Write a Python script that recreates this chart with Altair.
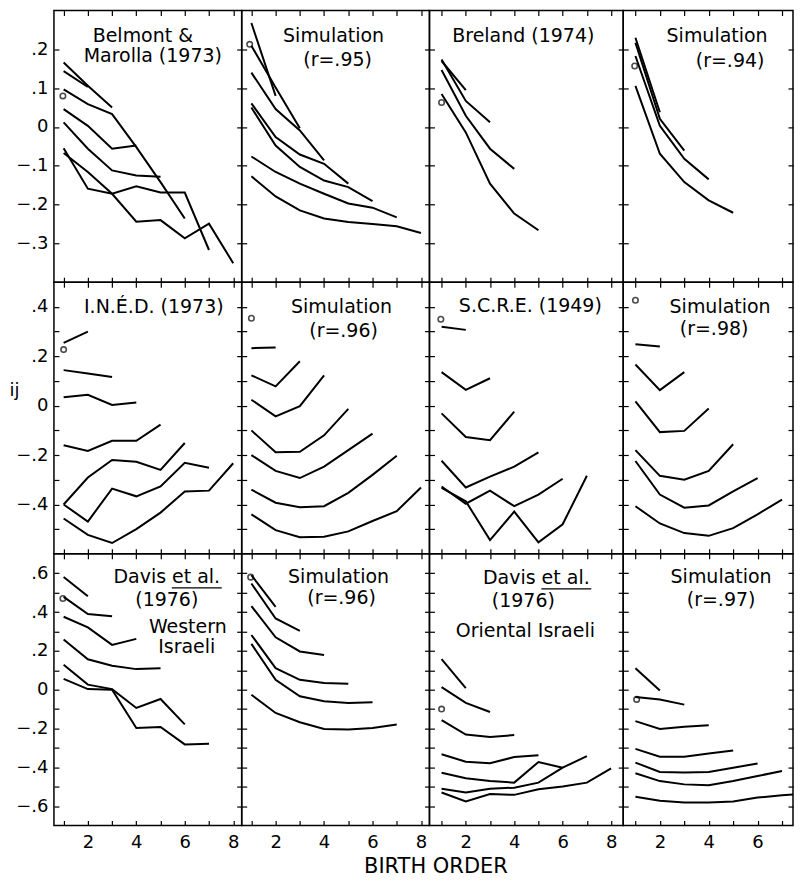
import altair as alt
import pandas as pd

FONT = "DejaVu Sans"
BIRTH_ORDER = [1, 2, 3, 4, 5, 6, 7, 8]

# ---- data: one list per family size, values for birth orders 1..n ----
belmont_marolla = [
    [0.144, 0.103],
    [0.166, 0.106, 0.050],
    [0.046, 0.003, -0.056, -0.048],
    [0.012, -0.056, -0.112, -0.125, -0.128],
    [0.097, 0.059, 0.033, -0.052, -0.142, -0.236],
    [-0.055, -0.159, -0.172, -0.153, -0.169, -0.169, -0.317],
    [-0.067, -0.116, -0.172, -0.244, -0.240, -0.287, -0.249, -0.351],
]
sim_95 = [
    [0.268, 0.080],
    [0.209, 0.102, -0.003],
    [0.140, 0.046, -0.009, -0.086],
    [0.061, -0.026, -0.071, -0.095, -0.146],
    [0.050, -0.048, -0.103, -0.138, -0.155, -0.191],
    [-0.076, -0.116, -0.146, -0.172, -0.197, -0.208, -0.233],
    [-0.127, -0.179, -0.215, -0.236, -0.245, -0.250, -0.256, -0.273],
]
breland = [
    [0.170, 0.095],
    [0.174, 0.067, 0.012],
    [0.147, 0.029, -0.056, -0.108],
    [0.085, -0.014, -0.146, -0.223, -0.266],
]
sim_94 = [
    [0.230, 0.038],
    [0.217, 0.021, -0.061],
    [0.183, 0.003, -0.082, -0.135],
    [0.106, -0.069, -0.142, -0.189, -0.221],
]
ined = [
    [0.254, 0.300],
    [0.144, 0.130, 0.116],
    [0.034, 0.044, 0.003, 0.013],
    [-0.160, -0.183, -0.142, -0.142, -0.077],
    [-0.400, -0.291, -0.220, -0.227, -0.260, -0.151],
    [-0.400, -0.469, -0.336, -0.367, -0.327, -0.231, -0.251],
    [-0.457, -0.523, -0.556, -0.500, -0.433, -0.347, -0.344, -0.233],
]
sim_96a = [
    [0.233, 0.236],
    [0.123, 0.078, 0.180],
    [0.024, -0.043, -0.002, 0.123],
    [-0.100, -0.189, -0.187, -0.120, -0.013],
    [-0.200, -0.264, -0.293, -0.247, -0.180, -0.113],
    [-0.340, -0.393, -0.411, -0.407, -0.353, -0.280, -0.203],
    [-0.440, -0.504, -0.533, -0.531, -0.509, -0.467, -0.427, -0.331],
]
scre = [
    [0.320, 0.307],
    [0.136, 0.064, 0.111],
    [-0.031, -0.127, -0.140, -0.024],
    [-0.223, -0.331, -0.287, -0.247, -0.189],
    [-0.327, -0.397, -0.344, -0.407, -0.360, -0.296],
    [-0.333, -0.387, -0.544, -0.429, -0.553, -0.480, -0.284],
]
sim_98 = [
    [0.249, 0.240],
    [0.167, 0.063, 0.136],
    [0.017, -0.107, -0.102, -0.011],
    [-0.180, -0.284, -0.300, -0.264, -0.156],
    [-0.224, -0.360, -0.413, -0.404, -0.347, -0.293],
    [-0.407, -0.477, -0.516, -0.527, -0.496, -0.440, -0.380],
]
davis_western = [
    [0.581, 0.482],
    [0.478, 0.390, 0.379],
    [0.376, 0.321, 0.231, 0.262],
    [0.259, 0.157, 0.123, 0.106, 0.111],
    [0.128, 0.026, 0.003, -0.094, -0.048, -0.179],
    [0.056, 0.003, 0.000, -0.197, -0.192, -0.282, -0.279],
]
sim_96b = [
    [0.590, 0.427],
    [0.547, 0.367, 0.303],
    [0.431, 0.270, 0.197, 0.179],
    [0.282, 0.111, 0.051, 0.034, 0.031],
    [0.236, 0.051, -0.034, -0.060, -0.068, -0.065],
    [-0.026, -0.120, -0.168, -0.202, -0.205, -0.197, -0.179],
]
davis_oriental = [
    [0.157, 0.008],
    [0.013, -0.068, -0.115],
    [-0.157, -0.231, -0.244, -0.234],
    [-0.333, -0.371, -0.379, -0.347, -0.338],
    [-0.428, -0.456, -0.470, -0.479, -0.373, -0.402],
    [-0.510, -0.530, -0.510, -0.505, -0.479, -0.402, -0.342],
    [-0.530, -0.576, -0.538, -0.542, -0.513, -0.499, -0.479, -0.405],
]
sim_97 = [
    [0.111, -0.004],
    [-0.038, -0.051, -0.077],
    [-0.162, -0.202, -0.191, -0.183],
    [-0.305, -0.346, -0.346, -0.329, -0.313],
    [-0.376, -0.424, -0.427, -0.424, -0.402, -0.380],
    [-0.431, -0.471, -0.488, -0.492, -0.471, -0.445, -0.419],
    [-0.552, -0.572, -0.581, -0.581, -0.576, -0.556, -0.544, -0.535],
]
# open-circle marker (birth order, value) per panel
circles = [
    [(0.97, 0.080), (0.93, 0.213), (1.0, 0.063), (0.97, 0.157)],
    [(1.0, 0.227), (1.0, 0.354), (0.97, 0.350), (1.0, 0.427)],
    [(0.97, 0.470), (0.97, 0.580), (1.0, -0.100), (1.05, -0.050)],
]
panel_data = [
    [belmont_marolla, sim_95, breland, sim_94],
    [ined, sim_96a, scre, sim_98],
    [davis_western, sim_96b, davis_oriental, sim_97],
]
panel_titles = [
    [["Belmont &", "Marolla (1973)"], ["Simulation", "(r=.95)"], ["Breland (1974)"], ["Simulation", "(r=.94)"]],
    [["I.N.É.D. (1973)"], ["Simulation", "(r=.96)"], ["S.C.R.E. (1949)"], ["Simulation", "(r=.98)"]],
    [["Davis et al.", "(1976)", "Western", "Israeli"], ["Simulation", "(r=.96)"],
     ["Davis et al.", "(1976)", "Oriental Israeli"], ["Simulation", "(r=.97)"]],
]

# ---- layout (pixels, not data) ----
title_pos = [
    [[(89, 25), (99, 46)], [(92, 25), (96, 50)], [(94, 25)], [(94, 25), (107, 51)]],
    [[(100, 25)], [(100, 25), (102, 49)], [(101, 24)], [(97, 25), (91, 47)]],
    [[(113, 23), (113, 46), (134, 73), (133, 93)], [(97, 23), (100, 44)],
     [(107, 24), (94, 47), (96, 77)], [(98, 23), (98, 46)]],
]
# underline under "et al." (panel row, col, x1, x2, y)
underlines = [(2, 0, 118, 168, 34), (2, 2, 112, 162, 35)]
COL_W = [188, 188, 194, 170]
COL_DOM = [[0.6, 8.35], [0.6, 8.35], [0.5, 8.5], [0.5, 7.45]]
ROW_H = 272
ROW_DOM = [[-0.4, 0.3], [-0.6, 0.5], [-0.7, 0.7]]
ROW_TICKS = [
    [round(-0.3 + 0.1 * i, 1) for i in range(6)],
    [round(-0.5 + 0.1 * i, 1) for i in range(10)],
    [round(-0.6 + 0.1 * i, 1) for i in range(13)],
]
FMT = "(datum.value == 0 ? '0' : replace(format(datum.value, '.1f'), '0.', '.'))"
ROW_LABEL = [
    FMT,
    f"(abs(round(datum.value*10)) % 2 != 0 || abs(datum.value) > 0.45) ? '' : {FMT}",
    f"(abs(round(datum.value*10)) % 2 != 0) ? '' : {FMT}",
]


def long_df(lines):
    rows = []
    for i, vals in enumerate(lines):
        for j, v in enumerate(vals):
            rows.append({"x": BIRTH_ORDER[j], "v": v, "fam": i + 2})
    return pd.DataFrame(rows)


def panel(r, c):
    df = long_df(panel_data[r][c])
    xd, yd = COL_DOM[c], ROW_DOM[r]
    xs = alt.Scale(domain=xd, nice=False, zero=False)
    ys = alt.Scale(domain=yd, nice=False, zero=False)
    xt = [v for v in BIRTH_ORDER if xd[0] < v < xd[1]]
    yt = ROW_TICKS[r]

    bx = dict(orient="bottom", values=xt, offset=-5, tickSize=5, domain=False, grid=False,
              labels=(r == 2), labelExpr="datum.value % 2 == 0 ? '' + datum.value : ''",
              labelPadding=8, labelFontSize=18, title=None)
    if r < 2:
        bx.update(minExtent=0, maxExtent=0)
    if (r, c) == (2, 1):
        bx.update(title="BIRTH ORDER", titleX=194, titleY=46, titleAlign="center",
                  titleBaseline="middle", titleFontSize=21, titleFontWeight="normal")
    ly = dict(orient="left", values=yt, offset=-5, tickSize=5, domain=False, grid=False,
              labels=(c == 0), labelExpr=ROW_LABEL[r], labelPadding=6, labelFontSize=18, title=None)
    if c > 0:
        ly.update(minExtent=0, maxExtent=0)
    if (r, c) == (1, 0):
        ly.update(title="ij", titleAngle=0, titleX=-45, titleY=108, titleAlign="center",
                  titleBaseline="middle", titleFontSize=18, titleFontWeight="normal")

    lines = alt.Chart(df).mark_line(color="black", strokeWidth=2.0, clip=True).encode(
        x=alt.X("x:Q", scale=xs, axis=alt.Axis(**bx)),
        y=alt.Y("v:Q", scale=ys, axis=alt.Axis(**ly)),
        detail="fam:N",
    )
    # the open-circle marker also carries the inward ticks on the top and right edges
    cx, cv = circles[r][c]
    circ = alt.Chart(pd.DataFrame({"x": [cx], "v": [cv]})).mark_point(
        shape="circle", filled=False, color="black", size=30, strokeWidth=1.6, clip=True
    ).encode(
        x=alt.X("x:Q", scale=xs, axis=alt.Axis(orient="top", values=xt, offset=-5, tickSize=5,
                                                domain=False, grid=False, labels=False, title=None,
                                                minExtent=0, maxExtent=0)),
        y=alt.Y("v:Q", scale=ys, axis=alt.Axis(orient="right", values=yt, offset=-5, tickSize=5,
                                                domain=False, grid=False, labels=False, title=None,
                                                minExtent=0, maxExtent=0)),
    )

    extra = []
    for t, (px, py) in zip(panel_titles[r][c], title_pos[r][c]):
        extra.append(
            alt.Chart(alt.Data(values=[{"k": 1}])).mark_text(
                text=t, font=FONT, fontSize=19, color="black", align="center", baseline="middle"
            ).encode(x=alt.value(px), y=alt.value(py))
        )
    for (ur, uc, x1, x2, uy) in underlines:
        if (ur, uc) == (r, c):
            extra.append(
                alt.Chart(alt.Data(values=[{"k": 1}])).mark_rule(color="black", strokeWidth=1.3).encode(
                    x=alt.value(x1), x2=alt.value(x2), y=alt.value(uy)
                )
            )
    return alt.layer(lines, circ, *extra).resolve_axis(
        x="independent", y="independent"
    ).properties(width=COL_W[c], height=ROW_H)


panels = [panel(r, c) for r in range(3) for c in range(4)]
chart = alt.concat(*panels, columns=4, spacing=0, bounds="flush", align="each").properties(
    padding={"left": 0, "top": 0, "right": 0, "bottom": 0}
).configure_view(stroke="black", strokeWidth=1.5).configure_axis(
    tickColor="black", labelColor="black", titleColor="black",
    labelFont=FONT, titleFont=FONT, tickWidth=1.2
)

chart.save("out.html", embed_options={"renderer": "svg", "actions": False})
